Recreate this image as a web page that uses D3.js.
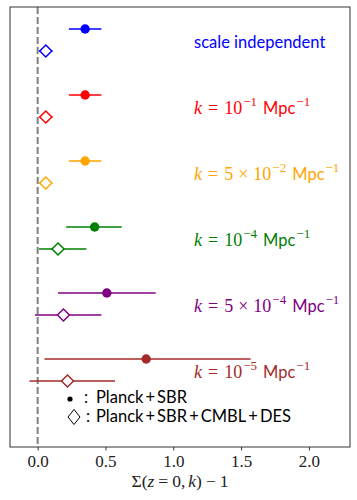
<!DOCTYPE html>
<html>
<head>
<meta charset="utf-8">
<script src="https://cdn.jsdelivr.net/npm/d3@7"></script>
<style>
  body { margin: 0; background: #fff; }
  svg { display: block; }
  .sans { font-family: Lato, "Open Sans", sans-serif; }
  .serif { font-family: "Liberation Serif", "DejaVu Serif", serif; }
</style>
</head>
<body>
<svg width="357" height="500"></svg>
<script>
// waarden
const kPrefix = [null, "10", "5", "10", "5", "10"];
const kExp = [null, "−1", "−2", "−4", "−4", "−5"];
const colors = ["#0000ff", "#ff0000", "#ffa500", "#008000", "#800080", "#a52a2a"];

// Planck+SBR (gevulde punten)
const planckVal = [0.35, 0.35, 0.35, 0.42, 0.51, 0.80];
const planckLo = [0.23, 0.23, 0.23, 0.21, 0.15, 0.05];
const planckHi = [0.47, 0.47, 0.47, 0.62, 0.87, 1.57];

// Planck+SBR+CMBL+DES (open ruiten)
const fullVal = [0.06, 0.06, 0.06, 0.15, 0.19, 0.22];
const fullLo = [0.01, 0.01, 0.01, 0.01, -0.02, -0.06];
const fullHi = [0.11, 0.11, 0.11, 0.36, 0.47, 0.57];

const xTicks = [0.0, 0.5, 1.0, 1.5, 2.0];

const svg = d3.select("svg");
const margin = { top: 7, right: 7, bottom: 53, left: 10 };
const width = +svg.attr("width") - margin.left - margin.right;
const height = +svg.attr("height") - margin.top - margin.bottom;

const x = d3.scaleLinear().domain([-0.204, 2.303]).range([0, width]);
const y = d3.scaleLinear().domain([-1 / 3, 19 / 3]).range([0, height]);

const g = svg.append("g").attr("transform", `translate(${margin.left},${margin.top})`);

// stippellijn bij nul
g.append("line")
  .attr("x1", x(0)).attr("x2", x(0))
  .attr("y1", 0).attr("y2", height)
  .attr("stroke", "#808080")
  .attr("stroke-width", 2)
  .attr("stroke-dasharray", "7,3");

const rows = d3.range(colors.length);

// error bars
g.selectAll(".errP").data(rows).enter().append("line")
  .attr("x1", i => x(planckLo[i])).attr("x2", i => x(planckHi[i]))
  .attr("y1", i => y(i)).attr("y2", i => y(i))
  .attr("stroke", i => colors[i]).attr("stroke-width", 1.5);

g.selectAll(".errF").data(rows).enter().append("line")
  .attr("x1", i => x(fullLo[i])).attr("x2", i => x(fullHi[i]))
  .attr("y1", i => y(i + 1 / 3)).attr("y2", i => y(i + 1 / 3))
  .attr("stroke", i => colors[i]).attr("stroke-width", 1.5);

g.selectAll(".dotP").data(rows).enter().append("circle")
  .attr("cx", i => x(planckVal[i])).attr("cy", i => y(i))
  .attr("r", 4.7)
  .attr("fill", i => colors[i]);

g.selectAll(".dia").data(rows).enter().append("path")
  .attr("transform", i => `translate(${x(fullVal[i])},${y(i + 1 / 3)})`)
  .attr("d", "M0,-6L6,0L0,6L-6,0Z")
  .attr("fill", "#fff")
  .attr("stroke", i => colors[i])
  .attr("stroke-width", 1.5);

// labels
rows.forEach(i => {
  const t = g.append("text")
    .attr("x", x(1.153))
    .attr("y", y(i + 0.2))
    .attr("dy", "0.35em")
    .attr("fill", colors[i]);
  if (kPrefix[i] === null) {
    t.attr("class", "sans").attr("font-size", 16.5).text("scale independent");
    return;
  }
  t.append("tspan").attr("class", "serif").attr("font-size", 18).attr("font-style", "italic").text("k");
  t.append("tspan").attr("class", "serif").attr("font-size", 18).attr("dx", 6).text("=");
  t.append("tspan").attr("class", "serif").attr("font-size", 18).attr("dx", 6).text(kPrefix[i]);
  if (kPrefix[i] === "5") {
    t.append("tspan").attr("class", "serif").attr("font-size", 18).attr("dx", 5).text("×");
    t.append("tspan").attr("class", "serif").attr("font-size", 18).attr("dx", 5).text("10");
  }
  t.append("tspan").attr("class", "serif").attr("font-size", 13).attr("dy", -8).attr("dx", 1).text(kExp[i]);
  t.append("tspan").attr("class", "sans").attr("font-size", 16.5).attr("dy", 8).attr("dx", 6).text("Mpc");
  t.append("tspan").attr("class", "serif").attr("font-size", 13).attr("dy", -8).attr("dx", 1).text("−1");
});

// legenda
const ml = margin.left, mt = margin.top;
g.append("circle").attr("cx", 70 - ml).attr("cy", 399 - mt).attr("r", 2.6).attr("fill", "#000");
g.append("path")
  .attr("transform", `translate(${74 - ml},${417 - mt})`)
  .attr("d", "M0,-7.5L6,0L0,7.5L-6,0Z")
  .attr("fill", "none").attr("stroke", "#000").attr("stroke-width", 1);
const plus = "\u2009+\u2009";
const leg1 = g.append("text").attr("class", "sans").attr("y", 403 - mt).attr("font-size", 16.5);
leg1.append("tspan").attr("x", 84 - ml).text(":");
leg1.append("tspan").attr("x", 96 - ml).text("Planck" + plus + "SBR");
const leg2 = g.append("text").attr("class", "sans").attr("y", 422 - mt).attr("font-size", 16.5);
leg2.append("tspan").attr("x", 86 - ml).text(":");
leg2.append("tspan").attr("x", 96 - ml).text("Planck" + plus + "SBR" + plus + "CMBL" + plus + "DES");

// frame
g.append("rect")
  .attr("width", width).attr("height", height)
  .attr("fill", "none").attr("stroke", "#333").attr("stroke-width", 1);

// x-as
const xAxis = d3.axisBottom(x).tickValues(xTicks).tickFormat(d3.format(".1f")).tickSize(3.5).tickPadding(4);
const ax = g.append("g").attr("transform", `translate(0,${height})`).call(xAxis);
ax.select(".domain").remove();
ax.selectAll("text").attr("class", "serif").attr("font-size", 17).attr("fill", "#222");
ax.selectAll("line").attr("stroke", "#333");

const xl = svg.append("text")
  .attr("class", "serif")
  .attr("x", margin.left + width / 2)
  .attr("y", 487)
  .attr("text-anchor", "middle")
  .attr("font-size", 17.5)
  .attr("fill", "#222");
xl.append("tspan").text("Σ(");
xl.append("tspan").attr("font-style", "italic").text("z");
xl.append("tspan").attr("dx", 4).text("=");
xl.append("tspan").attr("dx", 4).text("0,");
xl.append("tspan").attr("dx", 3).attr("font-style", "italic").text("k");
xl.append("tspan").text(")");
xl.append("tspan").attr("dx", 4).text("−");
xl.append("tspan").attr("dx", 4).text("1");
</script>
</body>
</html>
